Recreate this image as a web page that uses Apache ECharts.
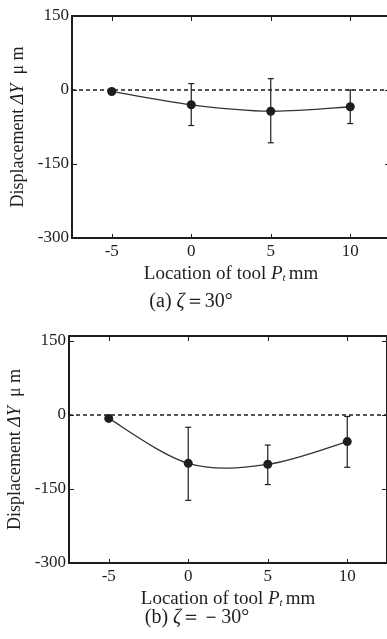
<!DOCTYPE html>
<html>
<head>
<meta charset="utf-8">
<script src="https://cdn.jsdelivr.net/npm/echarts@6/dist/echarts.min.js"></script>
<style>
  html, body { margin: 0; padding: 0; background: #fff; }
  #chart { width: 387px; height: 639px; }
</style>
</head>
<body>
<div id="chart"></div>
<script>
// tool locations (mm)
const locations = [-5, 0, 5, 10];
const xTicks = [-5, 0, 5, 10];
const yTicks = [-300, -150, 0, 150];

// (a) zeta = 30 deg
const meanA = [-3, -30, -43, -34];
const lowA = [-3, -72, -107, -68];
const highA = [-3, 13, 23, 0];

// (b) zeta = -30 deg
const meanB = [-7, -98, -100, -54];
const lowB = [-7, -173, -141, -106];
const highB = [-7, -25, -61, -3];

const ink = '#1e1e1e';
const serif = '"Liberation Serif", "DejaVu Serif", serif';

const chart = echarts.init(document.getElementById('chart'));

function pairs(vals) {
    return locations.map((x, i) => [x, vals[i]]);
}
function bars(low, high) {
    return locations.map((x, i) => [x, low[i], high[i]]);
}

function errRender(params, api) {
    const x = api.value(0);
    const lo = api.coord([x, api.value(1)]);
    const hi = api.coord([x, api.value(2)]);
    const cap = 3;
    const st = { stroke: ink, lineWidth: 1.2 };
    return {
        type: 'group',
        children: [
            { type: 'line', shape: { x1: lo[0], y1: lo[1], x2: hi[0], y2: hi[1] }, style: st },
            { type: 'line', shape: { x1: lo[0] - cap, y1: lo[1], x2: lo[0] + cap, y2: lo[1] }, style: st },
            { type: 'line', shape: { x1: hi[0] - cap, y1: hi[1], x2: hi[0] + cap, y2: hi[1] }, style: st }
        ]
    };
}

// catmull-rom style curve through the means (echarts' own smoothing clamps the dip)
function curveRender(mean) {
    return function (params, api) {
        if (params.dataIndex !== 0) return;
        const p = locations.map((x, i) => api.coord([x, mean[i]]));
        let d = 'M' + p[0][0] + ' ' + p[0][1];
        for (let i = 0; i < p.length - 1; i++) {
            const p0 = p[i - 1] || p[i];
            const p1 = p[i];
            const p2 = p[i + 1];
            const p3 = p[i + 2] || p[i + 1];
            const c1 = [p1[0] + (p2[0] - p0[0]) / 6, p1[1] + (p2[1] - p0[1]) / 6];
            const c2 = [p2[0] - (p3[0] - p1[0]) / 6, p2[1] - (p3[1] - p1[1]) / 6];
            d += ' C' + c1[0] + ' ' + c1[1] + ' ' + c2[0] + ' ' + c2[1] + ' ' + p2[0] + ' ' + p2[1];
        }
        return {
            type: 'path',
            shape: { pathData: d },
            style: { fill: null, stroke: '#333', lineWidth: 1.3 }
        };
    };
}

function nameRich(size) {
    return {
        n: { fontFamily: serif, fontSize: size, color: ink },
        i: { fontFamily: serif, fontSize: size, fontStyle: 'italic', color: ink },
        s: { fontFamily: serif, fontSize: 11, fontStyle: 'italic', color: ink, padding: [9, 3, 0, 0] }
    };
}

function xAxes(gridIndex) {
    return [{
        gridIndex: gridIndex,
        type: 'value',
        min: -7.5,
        max: 12.5,
        position: 'bottom',
        name: '{n|Location of tool }{i|P}{s|t}{n|mm}',
        nameLocation: 'middle',
        nameGap: 26,
        nameTextStyle: { rich: nameRich(19) },
        axisLine: { onZero: false, lineStyle: { color: ink, width: 2 } },
        axisTick: { inside: true, length: 4, customValues: xTicks, lineStyle: { color: ink } },
        axisLabel: { customValues: xTicks, margin: 5, fontFamily: serif, fontSize: 17, color: ink },
        splitLine: { show: false }
    }, {
        gridIndex: gridIndex,
        type: 'value',
        min: -7.5,
        max: 12.5,
        position: 'top',
        axisLine: { onZero: false, lineStyle: { color: ink, width: 2 } },
        axisTick: { inside: true, length: 5, customValues: xTicks, lineStyle: { color: ink } },
        axisLabel: { show: false },
        splitLine: { show: false }
    }];
}

function yAxes(gridIndex, max) {
    return [{
        gridIndex: gridIndex,
        type: 'value',
        min: -300,
        max: max,
        position: 'left',
        name: '{n|Displacement }{i|ΔY}{n|  μ m}',
        nameLocation: 'middle',
        nameGap: 44,
        nameTextStyle: { rich: nameRich(18) },
        axisLine: { onZero: false, lineStyle: { color: ink, width: 2 } },
        axisTick: { inside: true, length: 5, customValues: yTicks, lineStyle: { color: ink } },
        axisLabel: { customValues: yTicks, margin: 3, fontFamily: serif, fontSize: 17, color: ink },
        splitLine: { show: false }
    }, {
        gridIndex: gridIndex,
        type: 'value',
        min: -300,
        max: max,
        position: 'right',
        axisLine: { onZero: false, lineStyle: { color: ink, width: 2 } },
        axisTick: { inside: true, length: 5, customValues: yTicks, lineStyle: { color: ink } },
        axisLabel: { show: false },
        splitLine: { show: false }
    }];
}

function seriesFor(idx, mean, low, high) {
    return [{
        type: 'custom',
        xAxisIndex: idx * 2,
        yAxisIndex: idx * 2,
        renderItem: errRender,
        data: bars(low, high),
        z: 3
    }, {
        type: 'custom',
        xAxisIndex: idx * 2,
        yAxisIndex: idx * 2,
        renderItem: curveRender(mean),
        data: pairs(mean),
        z: 3
    }, {
        type: 'scatter',
        xAxisIndex: idx * 2,
        yAxisIndex: idx * 2,
        data: pairs(mean),
        symbol: 'circle',
        symbolSize: 9,
        itemStyle: { color: ink, opacity: 1 },
        z: 4,
        markLine: {
            silent: true,
            symbol: 'none',
            label: { show: false },
            lineStyle: { color: ink, type: [4, 3], width: 1.5 },
            data: [{ yAxis: 0 }]
        }
    }];
}

const captionStyle = {
    fontFamily: serif, fontSize: 20, fontWeight: 'normal', color: ink,
    rich: { i: { fontFamily: serif, fontSize: 20, fontStyle: 'italic', color: ink } }
};

const option = {
    backgroundColor: '#fff',
    animation: false,
    title: [{
        text: '(a) {i|ζ}＝30°',
        left: 186,
        top: 287,
        textAlign: 'center',
        textStyle: captionStyle
    }, {
        text: '(b) {i|ζ}＝－30°',
        left: 192,
        top: 603,
        textAlign: 'center',
        textStyle: captionStyle
    }],
    grid: [
        { left: 72, top: 16, width: 318, height: 222, outerBoundsMode: 'none' },
        { left: 69, top: 336, width: 318, height: 227, outerBoundsMode: 'none' }
    ],
    xAxis: xAxes(0).concat(xAxes(1)),
    yAxis: yAxes(0, 150).concat(yAxes(1, 160)),
    series: seriesFor(0, meanA, lowA, highA).concat(seriesFor(1, meanB, lowB, highB))
};

chart.setOption(option);
</script>
</body>
</html>
